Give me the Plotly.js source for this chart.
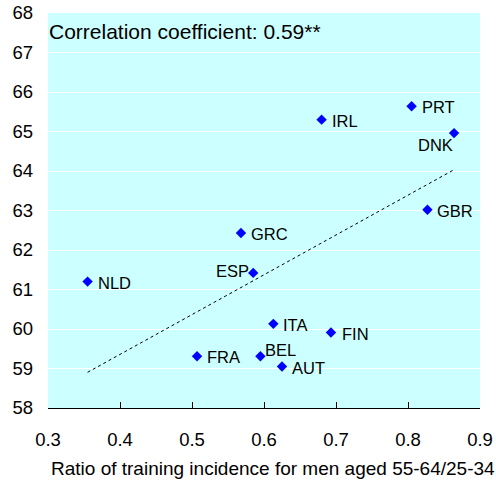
<!DOCTYPE html>
<html>
<head>
<meta charset="utf-8">
<script src="https://cdn.plot.ly/plotly-3.0.1.min.js"></script>
<style>html,body{margin:0;padding:0;background:#fff;}#chart{width:496px;height:480px;}</style>
</head>
<body>
<div id="chart"></div>
<script>
const countries = ["NLD","FRA","ESP","GRC","IRL","PRT","DNK","GBR","ITA","FIN","BEL","AUT"];
const ratio = [0.355,0.507,0.585,0.568,0.680,0.805,0.864,0.827,0.613,0.693,0.595,0.625];
const rate = [61.2,59.31,61.42,62.43,65.30,65.64,64.96,63.02,60.13,59.91,59.31,59.05];
const xTicks = [0.3,0.4,0.5,0.6,0.7,0.8,0.9];
const yTicks = [58,59,60,61,62,63,64,65,66,67,68];
const corrLabel = "Correlation coefficient: 0.59**";
const xTitle = "Ratio of training incidence for men aged 55-64/25-34";

// label placement styles (anchor side and pixel offsets from marker)
const labelStyle = {
  NLD:{a:"left",dx:9,dy:-1}, FRA:{a:"left",dx:9,dy:-1}, ESP:{a:"right",dx:-3,dy:2},
  GRC:{a:"left",dx:9,dy:-1}, IRL:{a:"left",dx:9,dy:-1}, PRT:{a:"left",dx:9,dy:-1},
  DNK:{a:"right",dx:0,dy:-12}, GBR:{a:"left",dx:9,dy:-1}, ITA:{a:"left",dx:9,dy:-1},
  FIN:{a:"left",dx:10,dy:-1}, BEL:{a:"left",dx:4,dy:6}, AUT:{a:"left",dx:9,dy:-1}
};

// linear regression trend line computed from data
const n = ratio.length;
const mx = ratio.reduce((a,b)=>a+b,0)/n;
const my = rate.reduce((a,b)=>a+b,0)/n;
let sxy=0,sxx=0;
for(let i=0;i<n;i++){sxy+=(ratio[i]-mx)*(rate[i]-my);sxx+=(ratio[i]-mx)**2;}
const slope = sxy/sxx, icpt = my - slope*mx;
const xmin = Math.min(...ratio), xmax = Math.max(...ratio);
const trendX = [xmin, xmax];
const trendY = trendX.map(v=>icpt+slope*v);

const font = "Arial, 'Liberation Sans', sans-serif";
const data = [
  {x: trendX, y: trendY, mode:"lines", type:"scatter", line:{color:"#000",width:1,dash:"dot"}, hoverinfo:"skip"},
  {x: ratio, y: rate, mode:"markers", type:"scatter",
   marker:{symbol:"diamond", color:"#0000FF", size:8}}
];
const labelAnns = countries.map((c,i)=>{
  const s = labelStyle[c];
  return {text:c, x:ratio[i], y:rate[i], xref:"x", yref:"y", showarrow:false,
    xanchor:s.a, yanchor:"middle", xshift:s.dx, yshift:s.dy, borderpad:0,
    font:{family:font,size:16.5,color:"#000"}};
});
const layout = {
  width:496, height:480,
  margin:{l:48, r:16, t:13, b:72},
  paper_bgcolor:"#fff", plot_bgcolor:"#CCFFFF",
  showlegend:false,
  font:{family:font, color:"#000", size:18.5},
  xaxis:{range:[0.3,0.9], tickvals:xTicks, ticktext:xTicks.map(v=>v.toFixed(1)), showgrid:false, zeroline:false,
    showline:true, linecolor:"#000", linewidth:1, ticks:"inside", ticklen:6, tickcolor:"#000",
    ticklabelstandoff:15, tickfont:{size:18.5}},
  yaxis:{range:[58,68], tickvals:yTicks, showgrid:true, gridcolor:"#fff", gridwidth:1, zeroline:false,
    showline:false, ticks:"", ticklabelstandoff:14, tickfont:{size:18.5}},
  annotations:[
    {text:corrLabel, xref:"paper", yref:"paper", x:0, y:1, xanchor:"left", yanchor:"top",
     xshift:0, yshift:-6, showarrow:false, borderpad:0, font:{family:font,size:21,color:"#000"}},
    {text:xTitle, xref:"paper", yref:"paper", x:0.5, y:0, xanchor:"center", yanchor:"top",
     xshift:9, yshift:-49, showarrow:false, borderpad:0, font:{family:font,size:19,color:"#000"}}
  ].concat(labelAnns)
};
Plotly.newPlot("chart", data, layout, {displayModeBar:false, staticPlot:true});
</script>
</body>
</html>
